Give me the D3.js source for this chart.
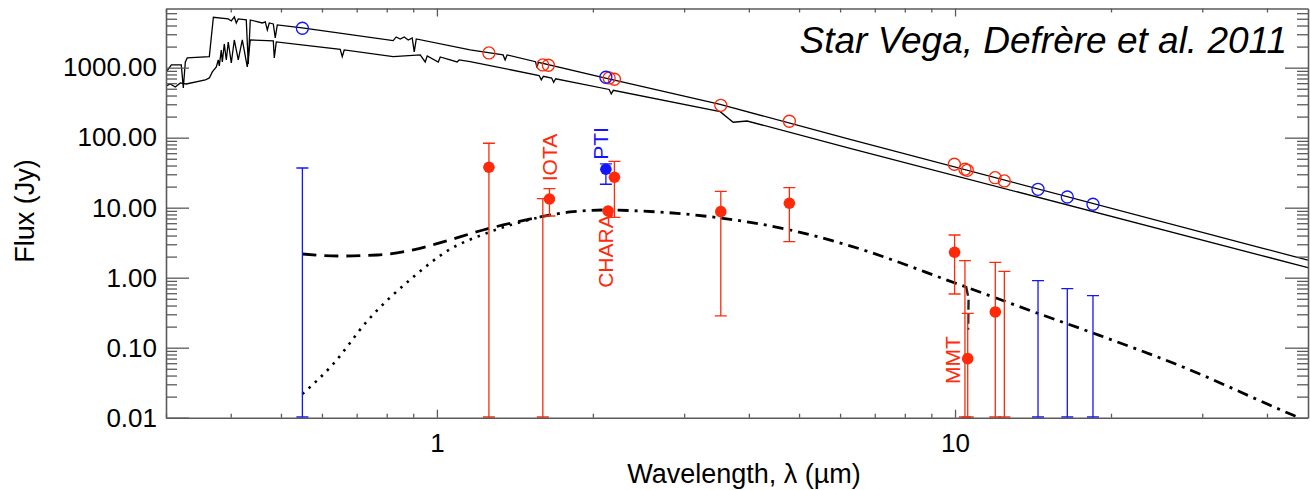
<!DOCTYPE html>
<html lang="en">
<head>
    <meta charset="UTF-8">
    <title>Star Vega SED</title>
    <style>
        body { margin: 0; background: #fff; }
        svg { display: block; }
        text { font-family: "Liberation Sans", Arial, Helvetica, sans-serif; }
    </style>
</head>
<body>
    <svg id="chart" width="1310" height="490"></svg>

    <script src="https://d3js.org/d3.v7.min.js"></script>
    <script>
        // Stellar photosphere spectra, [wavelength (um), flux (Jy)]
        const specUpper = [
            [0.3005, 868], [0.3072, 1093], [0.3211, 1093], [0.3240, 513], [0.3269, 1206], [0.3297, 1376],
            [0.3637, 1436], [0.3703, 5248], [0.3956, 4963], [0.4010, 4648], [0.4064, 5300], [0.4100, 4351],
            [0.4136, 4963], [0.4286, 4803], [0.4324, 1129], [0.4363, 4803], [0.4602, 4351], [0.4664, 4497],
            [0.4706, 3456], [0.4747, 4351], [0.4833, 4210], [0.4875, 2657], [0.4919, 4074], [0.5496, 3691],
            [0.8234, 2431], [0.8345, 2746], [0.8495, 2570], [0.8649, 2746], [0.8804, 2487], [0.8960, 2657],
            [0.9041, 1676], [0.9123, 2570], [1.159, 1790], [1.342, 1519], [1.354, 1288], [1.366, 1519],
            [1.55, 1217], [1.56, 1000], [1.57, 1191],
            [2.066, 736], [3.521, 298], [6.272, 94.9], [39.29, 2.63], [47.99, 1.778]
        ];
        const specLower = [
            [0.3004, 548], [0.3057, 585], [0.3127, 530], [0.3197, 605], [0.3283, 585], [0.3573, 667],
            [0.3637, 713], [0.3686, 868], [0.3752, 1023], [0.3784, 1288], [0.3802, 1058], [0.3835, 1790],
            [0.3853, 1206], [0.3887, 2181], [0.3922, 1288], [0.3956, 2328], [0.4010, 1167], [0.4064, 2487],
            [0.4136, 1288], [0.4211, 2487], [0.4305, 1023], [0.4363, 2487], [0.4833, 2407], [0.4854, 1376],
            [0.4897, 2328], [0.6507, 1832], [0.6566, 1436], [0.6624, 1790], [0.8234, 1436], [0.9285, 1519],
            [0.9493, 1206], [0.9578, 1469], [1.006, 1206], [1.015, 1422], [1.094, 1206], [1.104, 1288],
            [1.159, 1218], [1.575, 773], [1.59, 671], [1.605, 752], [1.665, 712], [1.68, 618], [1.695, 694],
            [2.15, 488], [2.17, 423], [2.19, 475],
            [3.521, 235], [3.730, 166], [3.969, 173], [6.272, 70.6], [47.99, 1.39]
        ];

        // dust models
        const modelDashed = [[0.55, 2.18], [0.6507, 2.04], [0.7671, 2.11], [0.90, 2.49], [1.028, 3.24], [1.228, 4.80], [1.582, 7.36]];
        const modelDotted = [[0.55, 0.0218], [0.6308, 0.0585], [0.7339, 0.241], [0.90, 1.02], [1.047, 2.41], [1.250, 4.35], [1.582, 7.36]];
        const modelDashDot = [
            [1.582, 7.36], [1.807, 8.68], [2.112, 9.27], [2.467, 8.97], [3.521, 7.13], [4.805, 4.80],
            [6.27, 2.85], [10.0, 0.84], [14.39, 0.313], [18.46, 0.162], [27.54, 0.053], [44.88, 0.0109], [46.31, 0.0099]
        ];
        const mmtFeature = [[10.50, 0.76], [10.62, 0.50], [10.60, 0.18]];

        // photometry on the photosphere (open circles)
        const photRed = [[1.260, 1622], [1.601, 1093], [1.641, 1082], [2.150, 713], [2.201, 683], [3.531, 290],
                         [4.789, 171.5], [9.97, 41.7], [10.45, 35.4], [10.56, 34.2], [11.95, 26.8], [12.45, 24.1]];
        const photBlue = [[0.55, 3655], [2.119, 729], [14.46, 18.3], [16.47, 14.2], [18.46, 11.2]];

        // excess: [lambda, flux, upper, lower]; flux null = no marker, lower 0 = down to the axis
        const excessRed = [
            [1.260, 37.8, 83.2, 0], [1.601, null, 13.45, 0], [1.649, 13.3, 18.7, 7.61], [2.14, 8.97, null, null],
            [2.201, 27.2, 46.0, 7.29], [3.531, 8.77, 17.15, 0.284], [4.789, 11.56, 19.31, 3.27],
            [9.98, 2.31, 4.07, 0.585], [10.45, null, 1.75, 0], [10.58, 0.0697, 0.310, 0],
            [11.96, 0.324, 1.66, 0], [12.45, null, 1.234, 0]
        ];
        const excessBlue = [
            [0.55, null, 36.9, 0], [2.119, 35.4, 42.1, 21.6], [14.46, null, 0.906, 0],
            [16.47, null, 0.697, 0], [18.46, null, 0.553, 0]
        ];

        // instrument labels: [text, lambda, flux, color]
        const instruments = [["IOTA", 1.707, 52.1, "red"], ["PTI", 2.141, 82.6, "blue"],
                             ["CHARA", 2.189, 2.40, "red"], ["MMT", 10.22, 0.0667, "red"]];

        const yTicks = [0.01, 0.1, 1, 10, 100, 1000];
        const xTicks = [1, 10];

        const RED = "#ff2a0a", BLUE = "#1414ff", AXIS = "#5a5a5a";
        const svg = d3.select("#chart");
        const pLeft = 166, pRight = 1308, pTop = 8.5, pBottom = 417.7;

        const x = d3.scaleLog().domain([0.3, 48]).range([pLeft, pRight]);
        const y = d3.scaleLog().domain([0.01, 7000]).range([pBottom, pTop]);
        const yMin = y.domain()[0];
        const col = c => c === "blue" ? BLUE : RED;

        svg.append("clipPath").attr("id", "plot")
            .append("rect").attr("x", pLeft).attr("y", pTop).attr("width", pRight - pLeft).attr("height", pBottom - pTop);
        const plot = svg.append("g").attr("clip-path", "url(#plot)");

        const line = d3.line().x(d => x(d[0])).y(d => y(d[1]));
        const smooth = d3.line().x(d => x(d[0])).y(d => y(d[1])).curve(d3.curveMonotoneX);

        // spectra
        [specUpper, specLower].forEach(s => {
            plot.append("path").datum(s).attr("d", line)
                .attr("fill", "none").attr("stroke", "#000").attr("stroke-width", 1.3);
        });

        // models
        plot.append("path").datum(modelDashed).attr("d", smooth)
            .attr("fill", "none").attr("stroke", "#000").attr("stroke-width", 2.8).attr("stroke-dasharray", "14,8");
        plot.append("path").datum(modelDotted).attr("d", smooth)
            .attr("fill", "none").attr("stroke", "#000").attr("stroke-width", 2.6).attr("stroke-dasharray", "2.5,6");
        plot.append("path").datum(modelDashDot).attr("d", smooth)
            .attr("fill", "none").attr("stroke", "#000").attr("stroke-width", 2.8).attr("stroke-dasharray", "11,6,3,6");
        plot.append("path").datum(mmtFeature).attr("d", line)
            .attr("fill", "none").attr("stroke", "#222").attr("stroke-width", 2.4).attr("stroke-dasharray", "10,4");

        // error bars
        function errorBars(data, color) {
            const g = plot.append("g").attr("stroke", color).attr("stroke-width", 1.3);
            data.filter(d => d[2] !== null).forEach(d => {
                const px = x(d[0]);
                const y1 = y(d[2]), y2 = y(Math.max(d[3], yMin));
                g.append("line").attr("x1", px).attr("x2", px).attr("y1", y1).attr("y2", y2);
                [y1, y2].forEach(py => g.append("line")
                    .attr("x1", px - 6).attr("x2", px + 6).attr("y1", py).attr("y2", py)
                    .attr("stroke-width", py === y2 && d[3] < yMin ? 3 : 1.3));
            });
        }
        errorBars(excessRed, RED);
        errorBars(excessBlue, BLUE);

        // photosphere photometry
        [[photRed, RED], [photBlue, BLUE]].forEach(([pts, c]) => {
            plot.selectAll(null).data(pts).enter().append("circle")
                .attr("cx", d => x(d[0])).attr("cy", d => y(d[1])).attr("r", 6)
                .attr("fill", "none").attr("stroke", c).attr("stroke-width", 1.3);
        });

        // excess markers
        [[excessRed, RED], [excessBlue, BLUE]].forEach(([pts, c]) => {
            plot.selectAll(null).data(pts.filter(d => d[1] !== null)).enter().append("circle")
                .attr("cx", d => x(d[0])).attr("cy", d => y(d[1])).attr("r", 5.8)
                .attr("fill", c);
        });

        // instrument labels
        svg.selectAll(".inst").data(instruments).enter().append("text")
            .attr("class", "inst")
            .attr("transform", d => `translate(${x(d[1])},${y(d[2])}) rotate(-90)`)
            .attr("text-anchor", "middle")
            .attr("font-size", 21)
            .attr("fill", d => col(d[3]))
            .text(d => d[0]);

        // axes
        function styleAxis(g, labels) {
            g.select(".domain").attr("stroke", AXIS).attr("stroke-width", 1.6);
            g.selectAll(".tick line").attr("stroke", AXIS).attr("stroke-width", 1.3);
            if (!labels) g.selectAll(".tick text").remove();
            else g.selectAll(".tick text").attr("fill", "#000").attr("font-size", 26);
        }
        const xMinor = [];
        [0.1, 1, 10].forEach(b => d3.range(2, 10).forEach(k => {
            const v = b * k;
            if (v > 0.3 && v < 48) xMinor.push(v);
        }));
        const yMinor = [];
        [0.01, 0.1, 1, 10, 100, 1000].forEach(b => d3.range(2, 10).forEach(k => {
            if (b * k < 7000) yMinor.push(b * k);
        }));

        svg.append("g").attr("transform", `translate(0,${pBottom})`)
            .call(d3.axisBottom(x).tickValues(xMinor).tickSize(-4).tickSizeOuter(0))
            .call(g => { g.select(".domain").remove(); styleAxis(g, false); });
        svg.append("g").attr("transform", `translate(0,${pTop})`)
            .call(d3.axisTop(x).tickValues(xMinor).tickSize(-4).tickSizeOuter(0))
            .call(g => { g.select(".domain").remove(); styleAxis(g, false); });
        svg.append("g").attr("transform", `translate(0,${pBottom})`)
            .call(d3.axisBottom(x).tickValues(xTicks).tickSize(-8).tickSizeOuter(0).tickPadding(16).tickFormat(d3.format("d")))
            .call(g => styleAxis(g, true));
        svg.append("g").attr("transform", `translate(0,${pTop})`)
            .call(d3.axisTop(x).tickValues(xTicks).tickSize(-8).tickSizeOuter(0))
            .call(g => styleAxis(g, false));

        svg.append("g").attr("transform", `translate(${pLeft},0)`)
            .call(d3.axisLeft(y).tickValues(yMinor).tickSize(-11).tickSizeOuter(0))
            .call(g => { g.select(".domain").remove(); styleAxis(g, false); });
        svg.append("g").attr("transform", `translate(${pRight},0)`)
            .call(d3.axisRight(y).tickValues(yMinor).tickSize(-11).tickSizeOuter(0))
            .call(g => { g.select(".domain").remove(); styleAxis(g, false); });
        svg.append("g").attr("transform", `translate(${pLeft},0)`)
            .call(d3.axisLeft(y).tickValues(yTicks).tickSize(-23).tickSizeOuter(0).tickPadding(9).tickFormat(d3.format(".2f")))
            .call(g => styleAxis(g, true));
        svg.append("g").attr("transform", `translate(${pRight},0)`)
            .call(d3.axisRight(y).tickValues(yTicks).tickSize(-23).tickSizeOuter(0))
            .call(g => styleAxis(g, false));

        // titles
        svg.append("text")
            .attr("x", 1287).attr("y", 53)
            .attr("text-anchor", "end")
            .attr("font-size", 37).attr("font-style", "italic")
            .text("Star Vega, Defrère et al. 2011");
        svg.append("text")
            .attr("x", 744).attr("y", 483)
            .attr("text-anchor", "middle")
            .attr("font-size", 27)
            .text("Wavelength, λ (µm)");
        svg.append("text")
            .attr("transform", "translate(34,211) rotate(-90)")
            .attr("text-anchor", "middle")
            .attr("font-size", 27)
            .text("Flux (Jy)");
    </script>
</body>
</html>
